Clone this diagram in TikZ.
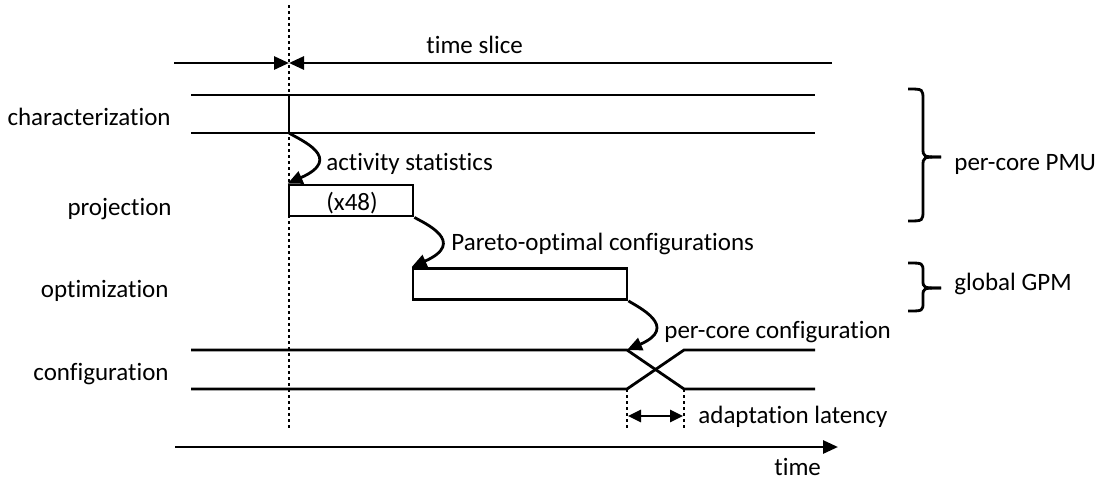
\documentclass[tikz,border=0pt]{standalone}
\usepackage{fontspec}
\setmainfont{Carlito}[Ligatures={NoCommon}]
\usetikzlibrary{arrows.meta}
\begin{document}
\begin{tikzpicture}[x=1pt,y=-1pt,line width=2.8pt,
  lbl/.style={font=\fontsize{25}{30}\selectfont,inner sep=0pt},
  tipend/.style={-{Triangle[length=15pt,width=13pt]}},
  tipboth/.style={{Triangle[length=13pt,width=12pt]}-{Triangle[length=13pt,width=12pt]}},
  dots/.style={dash pattern=on 3pt off 3pt},
  phase/.style={draw,minimum height=31pt,inner sep=0pt,lbl}]
\useasboundingbox (0,0) rectangle (1100,482);
% dotted slice boundary
\coordinate (dtop) at (289,5);
\coordinate (dbot) at (289,428);
\draw[dots] (dtop) -- (dbot);
% time slice
\coordinate (tsl) at (174,63);
\coordinate (tsm) at (289,63);
\coordinate (tsr) at (832,63);
\draw[tipend] (tsl) -- (tsm);
\draw[tipend] (tsr) -- (tsm);
\node[lbl,anchor=base west] (tslbl) at (425,53) {time slice};
% characterization lines
\coordinate (c1l) at (191,95); \coordinate (c1r) at (815,95);
\coordinate (c2l) at (191,133); \coordinate (c2r) at (815,133);
\coordinate (c1m) at (289,95); \coordinate (c2m) at (289,133);
\draw (c1l) -- (c1r);
\draw (c2l) -- (c2r);
\draw (c1m) -- (c2m);
\node[lbl,anchor=base east] (lchar) at (172,125) {characterization};
% projection box
\node[phase,minimum width=124pt] (proj) at (351,200.5) {};
\node[lbl,anchor=base west] (x48) at (325,210) {(x48)};
\node[lbl,anchor=base east] (lproj) at (173,215) {projection};
% optimization box
\node[phase,minimum width=214pt] (opt) at (520,284) {};
\node[lbl,anchor=base east] (lopt) at (170,297) {optimization};
% curved arrows
\draw[tipend] (c2m) .. controls (300,140) and (345,158) .. (proj.north west);
\node[lbl,anchor=base west] (act) at (325,170) {activity statistics};
\draw[tipend] (proj.south east) .. controls (424,223) and (468,242) .. (opt.north west);
\node[lbl,anchor=base west] (par) at (450,250) {Pareto-optimal configurations};
% configuration lines
\coordinate (g1l) at (191,350); \coordinate (g1a) at (627,350);
\coordinate (g1b) at (684,350); \coordinate (g1r) at (815,350);
\coordinate (g2l) at (191,389); \coordinate (g2a) at (627,389);
\coordinate (g2b) at (684,389); \coordinate (g2r) at (815,389);
\draw (g1l) -- (g1a) -- (g2b) -- (g2r);
\draw (g2l) -- (g2a) -- (g1b) -- (g1r);
\node[lbl,anchor=base east] (lconf) at (170,380) {configuration};
\draw[tipend] (opt.south east) .. controls (638,307) and (680,327) .. (g1a);
\node[lbl,anchor=base west] (pcc) at (663,338) {per-core configuration};
% adaptation latency
\coordinate (la) at (627,428); \coordinate (lb) at (684,428);
\draw[dots] (g2a) -- (la);
\draw[dots] (g2b) -- (lb);
\coordinate (aa) at (628,416); \coordinate (ab) at (683,416);
\draw[tipboth] (aa) -- (ab);
\node[lbl,anchor=base west] (adl) at (697,423) {adaptation latency};
% time axis
\coordinate (t0) at (175,447); \coordinate (t1) at (838,447);
\draw[tipend] (t0) -- (t1);
\node[lbl,anchor=base west] (tlbl) at (773,475) {time};
% braces
\coordinate (b1t) at (908,89); \coordinate (b1m) at (941,157); \coordinate (b1b) at (908,221);
\draw (b1t) .. controls (923,89) .. (923,100) -- (923,148) .. controls (923,157) .. (b1m);
\draw (b1m) .. controls (923,157) .. (923,166) -- (923,210) .. controls (923,221) .. (b1b);
\node[lbl,anchor=base west] (pmu) at (953,170) {per-core PMU};
\coordinate (b2t) at (908,263); \coordinate (b2m) at (941,288); \coordinate (b2b) at (908,311);
\draw (b2t) .. controls (923,263) .. (923,272) -- (923,280) .. controls (923,288) .. (b2m);
\draw (b2m) .. controls (923,288) .. (923,296) -- (923,302) .. controls (923,311) .. (b2b);
\node[lbl,anchor=base west] (gpm) at (953,290) {global GPM};
\end{tikzpicture}
\end{document}
